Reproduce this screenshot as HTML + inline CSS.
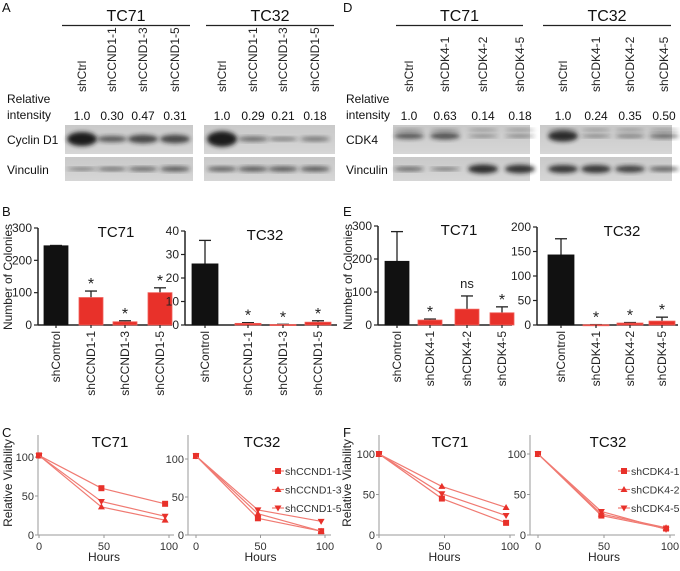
<!DOCTYPE html>
<html><head><meta charset="utf-8"><style>
body{margin:0;background:#fff;}
svg{display:block;font-family:"Liberation Sans",Arial,sans-serif;}
</style></head><body>
<svg id="fig" width="680" height="571" viewBox="0 0 680 571" xmlns="http://www.w3.org/2000/svg">
<defs>
<filter id="blur1" x="-20%" y="-50%" width="140%" height="200%"><feGaussianBlur stdDeviation="2.2"/></filter>
<linearGradient id="blotbg" x1="0" y1="0" x2="0" y2="1"><stop offset="0" stop-color="#c9c9c9"/><stop offset="1" stop-color="#d6d6d6"/></linearGradient>
</defs>
<g id="root"></g>
</svg>
<script>
// ---- Blot data ----
const blotACells = ["TC71","TC32"];
const blotALanes = ["shCtrl","shCCND1-1","shCCND1-3","shCCND1-5"];
const blotAIntTC71 = ["1.0","0.30","0.47","0.31"];
const blotAIntTC32 = ["1.0","0.29","0.21","0.18"];
const blotDLanes = ["shCtrl","shCDK4-1","shCDK4-2","shCDK4-5"];
const blotDIntTC71 = ["1.0","0.63","0.14","0.18"];
const blotDIntTC32 = ["1.0","0.24","0.35","0.50"];

// ---- Bar chart data ----
const barCatsB = ["shControl","shCCND1-1","shCCND1-3","shCCND1-5"];
const barB71 = [245, 85, 10, 100];
const barB71Err = [1, 20, 3, 15];
const barB71Sig = ["", "*", "*", "*"];
const barB32 = [26, 0.7, 0.2, 1.2];
const barB32Err = [10, 0.3, 0.1, 0.6];
const barB32Sig = ["", "*", "*", "*"];
const barCatsE = ["shControl","shCDK4-1","shCDK4-2","shCDK4-5"];
const barE71 = [193, 15, 48, 37];
const barE71Err = [90, 3, 40, 18];
const barE71Sig = ["", "*", "ns", "*"];
const barE32 = [143, 0.5, 4, 8];
const barE32Err = [33, 0.3, 1, 8];
const barE32Sig = ["", "*", "*", "*"];
const ticksB71 = [0,100,200,300];
const ticksB32 = [0,10,20,30,40];
const ticksE71 = [0,100,200,300];
const ticksE32 = [0,50,100,150,200];

// ---- Line chart data ----
const hours = [0, 48, 97];
const serCNames = ["shCCND1-1","shCCND1-3","shCCND1-5"];
const serC71_1 = [102, 60, 40];
const serC71_3 = [102, 36, 19];
const serC71_5 = [102, 43, 24];
const serC32_1 = [104, 22, 5];
const serC32_3 = [104, 28, 5];
const serC32_5 = [104, 33, 18];
const serFNames = ["shCDK4-1","shCDK4-2","shCDK4-5"];
const serF71_1 = [100, 45, 15];
const serF71_2 = [100, 60, 34];
const serF71_5 = [100, 51, 24];
const serF32_1 = [100, 24, 8];
const serF32_2 = [100, 26, 9];
const serF32_5 = [100, 29, 7];
const lineXTicks = [0,50,100];
const lineYTicks = [0,50,100];

const NS="http://www.w3.org/2000/svg";
const root=document.getElementById('root');
function el(tag,attrs,parent,txt){const e=document.createElementNS(NS,tag);for(const k in attrs)e.setAttribute(k,attrs[k]);if(txt!==undefined)e.textContent=String(txt);(parent||root).appendChild(e);return e;}
function grp(name,parent){const g=el('g',{},parent);


return g;}

// panel letters
[["A",2,12],["D",343,12],["B",2,216],["E",343,216],["C",2,437],["F",343,437]].forEach(p=>{
 const t=el('text',{x:p[1],y:p[2],'font-size':13,fill:'#111'},null,p[0]);
 
 
});

// ---- Blots ----
function blot(cfg){
 const g=grp(cfg.name);
 cfg.groups.forEach((gr,gi)=>{
  const t=el('text',{x:(gr.lx1+gr.lx2)/2,y:21,'font-size':16,'text-anchor':'middle',fill:'#111'},g,gr.cell);
  
  
  el('line',{x1:gr.lx1,x2:gr.lx2,y1:25.5,y2:25.5,stroke:'#222','stroke-width':1.2},g);
  cfg.lanes.forEach((ln,i)=>{
   const x=gr.laneX[i];
   const lt=el('text',{x:0,y:0,'font-size':12,fill:'#222',transform:`translate(${x+4},92) rotate(-90)`},g,ln);
   
   
   const it=el('text',{x:x,y:120,'font-size':12,'text-anchor':'middle',fill:'#111'},g,gr.ints[i]);
   
   
  });
  const b1=el('rect',{x:gr.bx1,y:125,width:gr.bx2-gr.bx1,height:29,fill:'url(#blotbg)'},g);
  
  
  cfg.lanes.forEach((ln,i)=>{
   const s=gr.band1[i];
   el('ellipse',{cx:gr.laneX[i],cy:139+(cfg.bandOff||0),rx:15,ry:Math.max(1.5,s*7),fill:'#1a1a1a',opacity:Math.min(1,0.35+s*0.7),filter:'url(#blur1)'},g);
   if(cfg.upper) el('ellipse',{cx:gr.laneX[i],cy:130,rx:15,ry:1.5,fill:'#555',opacity:0.5,filter:'url(#blur1)'},g);
  });
  const b2=el('rect',{x:gr.bx1,y:157,width:gr.bx2-gr.bx1,height:24,fill:'url(#blotbg)'},g);
  
  
  cfg.lanes.forEach((ln,i)=>{
   const s=gr.band2[i];
   el('ellipse',{cx:gr.laneX[i],cy:169,rx:15,ry:Math.max(1.5,s*5),fill:'#1a1a1a',opacity:0.45+s*0.5,filter:'url(#blur1)'},g);
  });
 });
 [["Relative",cfg.lx,103],["intensity",cfg.lx,119],[cfg.prot,cfg.lx,144],["Vinculin",cfg.lx,174]].forEach(r=>{
  const t=el('text',{x:r[1],y:r[2],'font-size':12,fill:'#111'},g,r[0]);
  
  
 });
}
blot({name:'panel-a-blot',prot:'Cyclin D1',lx:7,lanes:blotALanes,groups:[
 {cell:'TC71',lx1:62,lx2:190,bx1:65,bx2:193,laneX:[82,112,143,175],ints:blotAIntTC71,band1:[1,0.45,0.6,0.6],band2:[0.2,0.35,0.4,0.5]},
 {cell:'TC32',lx1:206,lx2:334,bx1:204,bx2:335,laneX:[222,253,283,315],ints:blotAIntTC32,band1:[1.1,0.35,0.25,0.3],band2:[0.45,0.5,0.5,0.5]}]});
blot({name:'panel-d-blot',prot:'CDK4',lx:346,lanes:blotDLanes,upper:true,bandOff:-3,groups:[
 {cell:'TC71',lx1:396,lx2:523,bx1:393,bx2:530,laneX:[409,445,483,520],ints:blotDIntTC71,band1:[0.45,0.5,0.15,0.2],band2:[0.4,0.3,0.9,0.85]},
 {cell:'TC32',lx1:543,lx2:671,bx1:540,bx2:672,laneX:[563,596,630,664],ints:blotDIntTC32,band1:[0.8,0.2,0.25,0.35],band2:[0.8,0.8,0.7,0.45]}]});

// ---- Bar charts ----
function barChart(c){
 const g=grp(c.name);
 const y=v=>c.y0+(c.yTop-c.y0)*(v/c.max);
 el('line',{x1:c.ax,x2:c.ax,y1:y(c.max),y2:c.y0,stroke:'#222','stroke-width':1.5},g);
 el('line',{x1:c.ax,x2:c.axEnd,y1:c.y0,y2:c.y0,stroke:'#222','stroke-width':1.5},g);
 c.ticks.forEach(t=>{
  el('line',{x1:c.ax-4,x2:c.ax,y1:y(t),y2:y(t),stroke:'#222','stroke-width':1.2},g);
  const tl=el('text',{x:c.ax-6,y:y(t)+4,'font-size':12,'text-anchor':'end',fill:'#222'},g,t);
  
  
 });
 const tt=el('text',{x:c.titleX,y:c.yTop+9,'font-size':15,'text-anchor':'middle',fill:'#111'},g,c.title);
 
 
 c.vals.forEach((v,i)=>{
  const cx=c.xs[i];
  const top=y(v+c.err[i]);
  el('line',{x1:cx,x2:cx,y1:y(v),y2:top,stroke:'#222','stroke-width':1.3},g);
  el('line',{x1:cx-6,x2:cx+6,y1:top,y2:top,stroke:'#222','stroke-width':1.3},g);
  const r=el('rect',{x:cx-c.bw/2,y:y(v),width:c.bw,height:Math.max(1,c.y0-y(v)),fill:i==0?'#111':'#e8312a',stroke:i==0?'#111':'#f0605a','stroke-width':0.8},g);
  
  
  if(c.sig[i]){
   const isStar=c.sig[i]=='*';
   const st=el('text',{x:cx,y:isStar?top-2:top-8,'font-size':isStar?16:13,'text-anchor':'middle',fill:'#222'},g,c.sig[i]);
   
   
  }
  el('line',{x1:cx,x2:cx,y1:c.y0,y2:c.y0+3,stroke:'#222','stroke-width':1.2},g);
  const xl=el('text',{x:0,y:0,'font-size':12,'text-anchor':'end',fill:'#222',transform:`translate(${cx+4},${c.y0+6}) rotate(-90)`},g,c.cats[i]);
  
  
 });
 if(c.ylab){
  const yl=el('text',{x:0,y:0,'font-size':12,'text-anchor':'middle',fill:'#222',transform:`translate(${c.ylabX},${c.ylabY}) rotate(-90)`},g,'Number of Colonies');
  
  
 }
}
barChart({name:'panel-b-tc71',title:'TC71',titleX:116,cats:barCatsB,vals:barB71,err:barB71Err,sig:barB71Sig,ticks:ticksB71,max:300,ax:38,axEnd:172,y0:325,yTop:228,xs:[56,91,125,160],bw:24,ylab:true,ylabX:12,ylabY:277});
barChart({name:'panel-b-tc32',title:'TC32',titleX:265,cats:barCatsB,vals:barB32,err:barB32Err,sig:barB32Sig,ticks:ticksB32,max:40,ax:185,axEnd:337,y0:325,yTop:231,xs:[205,248,283,318],bw:26});
barChart({name:'panel-e-tc71',title:'TC71',titleX:459,cats:barCatsE,vals:barE71,err:barE71Err,sig:barE71Sig,ticks:ticksE71,max:300,ax:378,axEnd:512,y0:325,yTop:226,xs:[397,430,467,502],bw:24,ylab:true,ylabX:352,ylabY:277});
barChart({name:'panel-e-tc32',title:'TC32',titleX:622,cats:barCatsE,vals:barE32,err:barE32Err,sig:barE32Sig,ticks:ticksE32,max:200,ax:537,axEnd:678,y0:325,yTop:227,xs:[561,596,630,662],bw:26});

// ---- Line charts ----
function marker(g,type,x,y){
 let m;
 if(type==0) m=el('rect',{x:x-3,y:y-3,width:6,height:6,fill:'#e8312a'},g);
 else if(type==1) m=el('polygon',{points:`${x},${y-3.5} ${x+3.5},${y+2.5} ${x-3.5},${y+2.5}`,fill:'#e8312a'},g);
 else m=el('polygon',{points:`${x},${y+3.5} ${x+3.5},${y-2.5} ${x-3.5},${y-2.5}`,fill:'#e8312a'},g);
 
 
}
function lineChart(c){
 const g=grp(c.name);
 const X=v=>c.x0+(c.x100-c.x0)*v/100;
 const Y=v=>c.y0+(c.y100-c.y0)*v/100;
 el('line',{x1:c.ax,x2:c.ax,y1:c.top,y2:c.y0,stroke:'#999','stroke-width':1},g);
 el('line',{x1:c.ax,x2:c.axEnd,y1:c.y0,y2:c.y0,stroke:'#999','stroke-width':1},g);
 lineYTicks.forEach(t=>{
  el('line',{x1:c.ax-3,x2:c.ax,y1:Y(t),y2:Y(t),stroke:'#999'},g);
  const tl=el('text',{x:c.ax-4,y:Y(t)+4,'font-size':11,'text-anchor':'end',fill:'#333'},g,t);
  
  
 });
 lineXTicks.forEach(t=>{
  el('line',{x1:X(t),x2:X(t),y1:c.y0,y2:c.y0+3,stroke:'#999'},g);
  const tl=el('text',{x:X(t),y:c.y0+15,'font-size':11,'text-anchor':'middle',fill:'#333'},g,t);
  
  
 });
 const tt=el('text',{x:c.titleX,y:447,'font-size':15,'text-anchor':'middle',fill:'#111'},g,c.title);
 
 
 const xt=el('text',{x:(X(0)+X(100))/2,y:561,'font-size':12,'text-anchor':'middle',fill:'#222'},g,'Hours');
 
 
 c.series.forEach((s,si)=>{
  const p=el('polyline',{points:hours.map((h,i)=>X(h)+','+Y(s[i])).join(' '),fill:'none',stroke:'#f07a72','stroke-width':1.2},g);
  
  
  hours.forEach((h,i)=>marker(g,si,X(h),Y(s[i])));
 });
 if(c.legend){
  c.legend.forEach((n,i)=>{
   const ly=c.legY+i*18.5;
   el('line',{x1:c.legX-6,x2:c.legX+6,y1:ly,y2:ly,stroke:'#f07a72','stroke-width':1.2},g);
   marker(g,i,c.legX,ly);
   const lt=el('text',{x:c.legX+7,y:ly+4,'font-size':10.5,fill:'#333'},g,n);
   
   
  });
 }
 if(c.ylab){
  const yl=el('text',{x:0,y:0,'font-size':12,'text-anchor':'middle',fill:'#222',transform:`translate(${c.ylabX},483) rotate(-90)`},g,'Relative Viability');
  
  
 }
}
lineChart({name:'panel-c-tc71',title:'TC71',titleX:110,series:[serC71_1,serC71_3,serC71_5],ax:38,axEnd:174,top:435,x0:39,x100:169,y0:535,y100:457,ylab:true,ylabX:12});
lineChart({name:'panel-c-tc32',title:'TC32',titleX:262,series:[serC32_1,serC32_3,serC32_5],ax:188,axEnd:331,top:435,x0:196,x100:325,y0:535,y100:459,legend:serCNames,legX:278,legY:471});
lineChart({name:'panel-f-tc71',title:'TC71',titleX:450,series:[serF71_1,serF71_2,serF71_5],ax:379,axEnd:515,top:435,x0:379,x100:510,y0:535,y100:454,ylab:true,ylabX:351});
lineChart({name:'panel-f-tc32',title:'TC32',titleX:608,series:[serF32_1,serF32_2,serF32_5],ax:530,axEnd:675,top:435,x0:538,x100:670,y0:535,y100:454,legend:serFNames,legX:624,legY:471});
</script>
</body></html>
